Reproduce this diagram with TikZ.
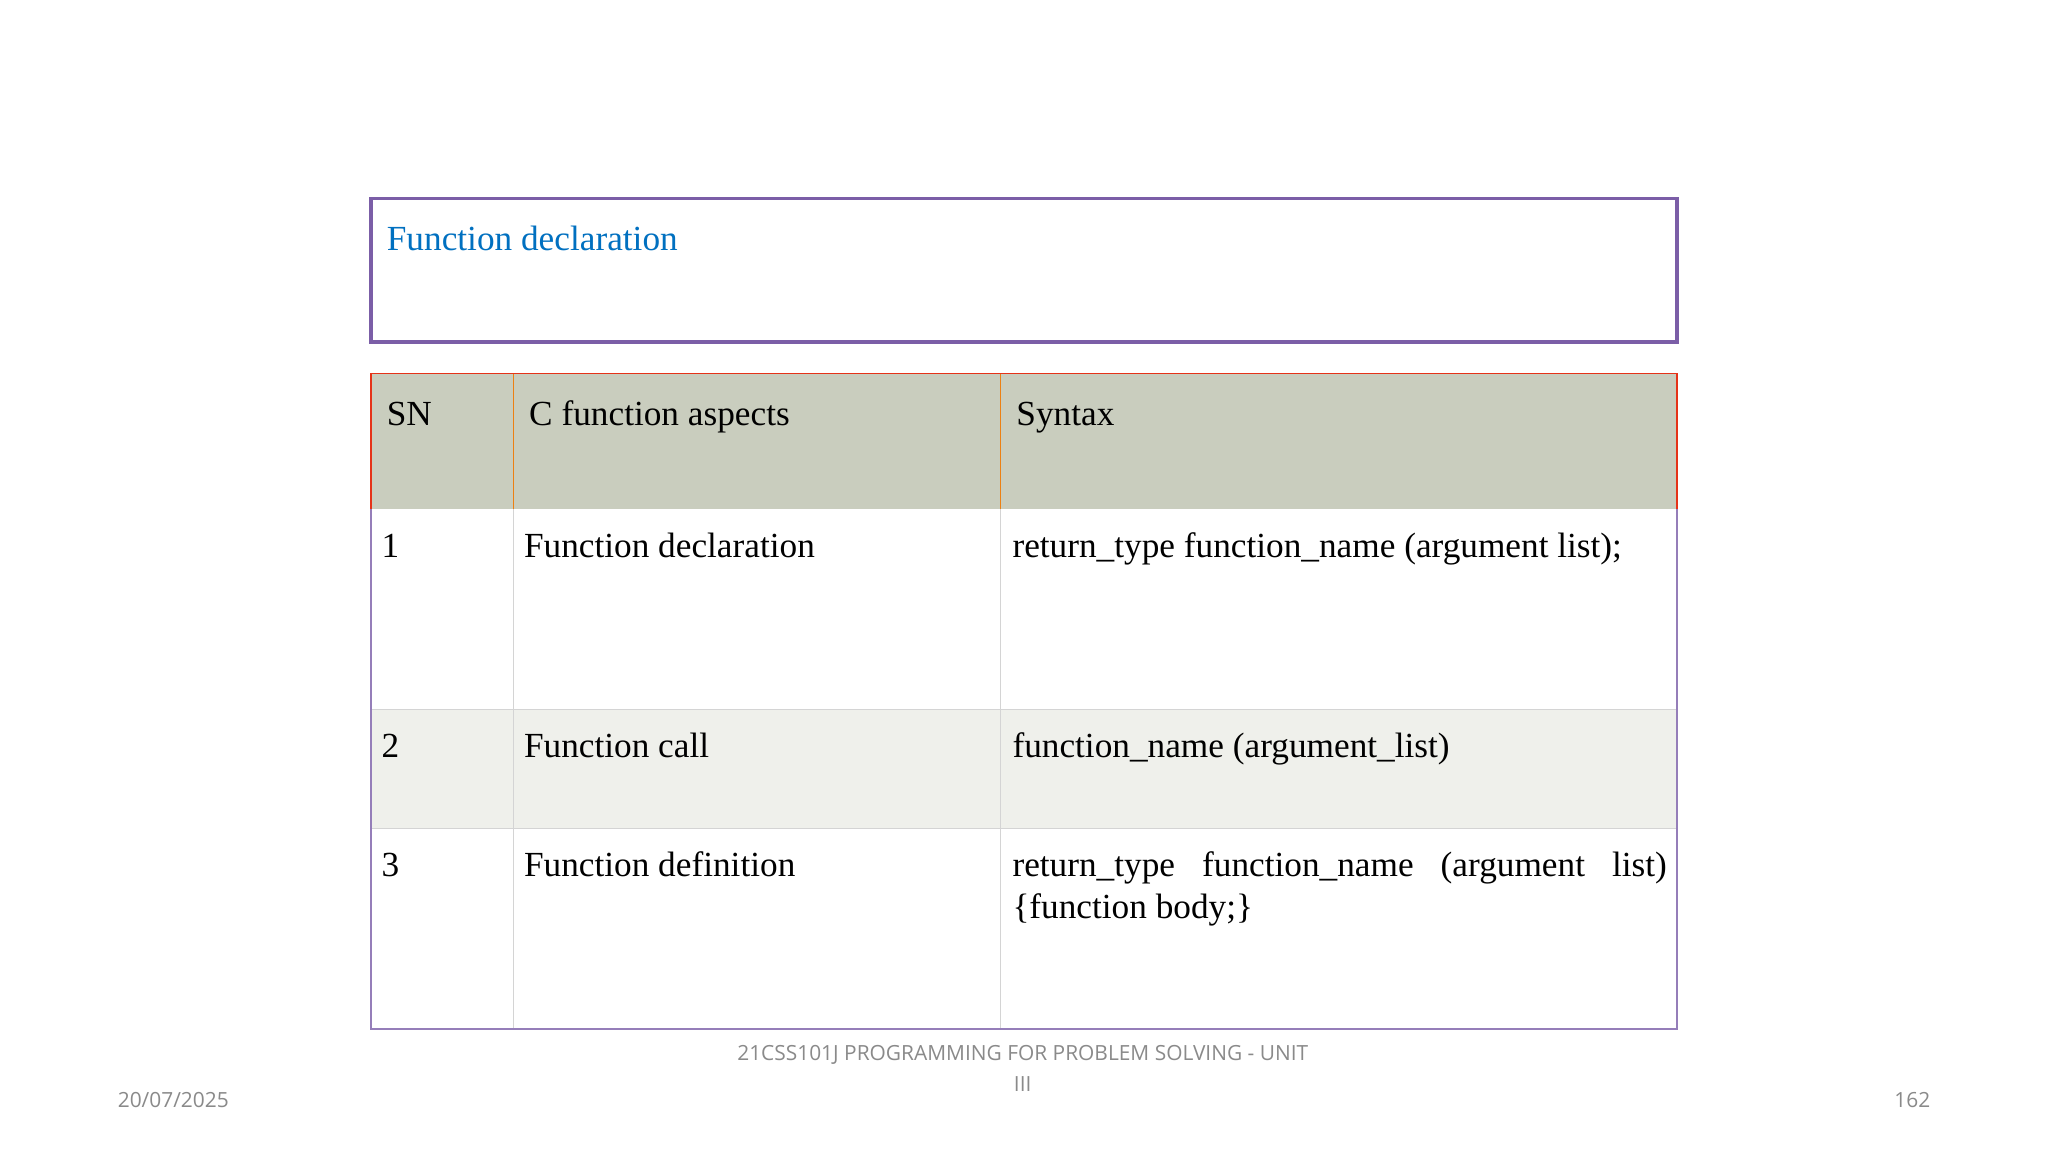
\documentclass[tikz,border=0pt]{standalone}
\usepackage{fontspec}
\setmainfont{Liberation Serif}
\newfontfamily\footfont{Open Sans}
\definecolor{purp}{HTML}{7B5EA7}
\definecolor{ttl}{HTML}{0070C0}
\definecolor{hdr}{HTML}{C9CDBE}
\definecolor{alt}{HTML}{EFF0EB}
\definecolor{grid}{HTML}{D4D4D4}
\definecolor{ftr}{HTML}{8A8A8A}
\tikzset{
 cell/.style={anchor=base west,inner sep=0pt,font=\fontsize{27}{32}\selectfont},
 syn/.style={cell,text width=501pt,align=justify},
 foot/.style={inner sep=0pt,font=\footfont\fontsize{16}{24}\selectfont,text=ftr}
}
\begin{document}
\begin{tikzpicture}[x=1pt,y=-1pt]
\hyphenpenalty=10000
\useasboundingbox (0,0) rectangle (1568,882);
\fill[white] (0,0) rectangle (1568,882);
% title box
\draw[purp,line width=3pt] (284,152) rectangle (1284,262);
\node[anchor=base west,inner sep=0pt,text=ttl,font=\fontsize{27}{32}\selectfont] (title) at (296,192) {Function declaration};
% table backgrounds
\fill[hdr] (284,286) rectangle (1284,390);
\fill[alt] (284,543) rectangle (1284,634);
\draw[grid] (284,543) -- (1284,543) (284,634) -- (1284,634)
 (393,390) -- (393,788) (766,390) -- (766,788);
\draw[orange!70!brown] (393,286) -- (393,390) (766,286) -- (766,390);
\draw[red!60!brown,line width=1.2pt] (284,390) -- (284,286) -- (1284,286) -- (1284,390);
\draw[purp!80,line width=1.2pt] (284,390) -- (284,788) -- (1284,788) -- (1284,390);
% header
\node[cell] (h1) at (296,326) {SN};
\node[cell] (h2) at (405,326) {C function aspects};
\node[cell] (h3) at (778,326) {Syntax};
% rows
\node[cell] (r1a) at (292,427) {1};
\node[cell] (r1b) at (401,427) {Function declaration};
\node[syn] (r1c) at (775,427) {return\_type function\_name (argument list);};
\node[cell] (r2a) at (292,580) {2};
\node[cell] (r2b) at (401,580) {Function call};
\node[cell] (r2c) at (775,580) {function\_name (argument\_list)};
\node[cell] (r3a) at (292,671) {3};
\node[cell] (r3b) at (401,671) {Function definition};
\node[syn] (r3c) at (775,671) {return\_type function\_name (argument list) \{function body;\}};
% footer
\node[foot,anchor=base west] (date) at (90,848) {20/07/2025};
\node[foot,anchor=base,align=center] (course) at (783,836) {21CSS101J PROGRAMMING FOR PROBLEM SOLVING - UNIT\\III};
\node[foot,anchor=base east] (page) at (1478,848) {162};
\end{tikzpicture}
\end{document}
